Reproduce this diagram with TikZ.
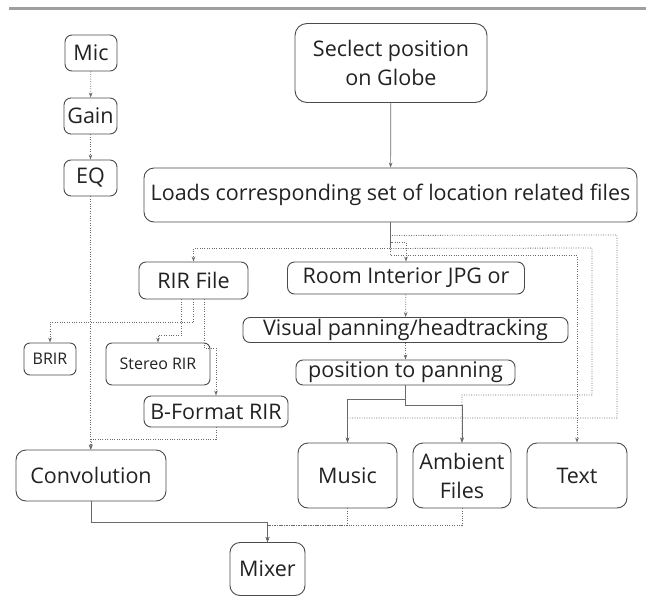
\documentclass[tikz,border=0pt]{standalone}
\usepackage{fontspec}
\setmainfont{Open Sans}
\usetikzlibrary{arrows.meta}

\definecolor{boxline}{HTML}{4A4A4A}
\definecolor{linegray}{HTML}{6A6A6A}
\definecolor{txtgray}{HTML}{222222}

\tikzset{
	blk/.style={draw=boxline,line width=0.9pt,rounded corners=7pt,fill=white,text=txtgray,
		inner sep=0pt,align=center,font=\fontsize{21.5}{29}\selectfont},
	sblk/.style={blk,rounded corners=6pt,font=\fontsize{16}{20}\selectfont},
	dotwire/.style={linegray,line width=0.8pt,dash pattern=on 0.9pt off 1.5pt},
	solwire/.style={linegray,line width=0.7pt},
	arr/.style={-{Stealth[length=5pt,width=3.6pt]}}
}

\begin{document}
\begin{tikzpicture}[x=1pt,y=-1pt]
		\useasboundingbox (0,0) rectangle (646,603);
		\draw[line width=2.5pt,gray!75] (9,8.5) -- (646,8.5);

		% left column
		\node[blk,minimum width=52pt,minimum height=36pt] (Mic) at (91,53) {Mic};
		\node[blk,minimum width=53pt,minimum height=36pt] (Gain) at (90.5,116) {Gain};
		\node[blk,minimum width=53pt,minimum height=36pt] (EQ) at (90.5,178) {EQ};

		% main column
		\node[blk,rounded corners=12pt,minimum width=192pt,minimum height=79pt] (Globe) at (391,63) {Seclect position\\on Globe};
		\node[blk,rounded corners=10pt,minimum width=493pt,minimum height=54pt] (Loads) at (390.5,195) {Loads corresponding set of location related files};
		\node[blk,minimum width=109pt,minimum height=37pt] (RIR) at (193.5,280.5) {RIR File};
		\node[blk,minimum width=237pt,minimum height=32pt] (Room) at (406,278) {Room Interior JPG or};
		\node[blk,minimum width=325pt,minimum height=25pt] (Visual) at (405.5,330) {Visual panning/headtracking};
		\node[blk,minimum width=219pt,minimum height=25pt] (Pos) at (405.5,372.5) {position to panning};

		\node[sblk,minimum width=52pt,minimum height=32pt] (BRIR) at (50,359) {BRIR};
		\node[sblk,minimum width=104pt,minimum height=42pt] (Stereo) at (158,364) {Stereo RIR};
		\node[blk,minimum width=144pt,minimum height=31pt] (BForm) at (216,411.5) {B-Format RIR};

		\node[blk,rounded corners=10pt,minimum width=150pt,minimum height=51pt] (Conv) at (91,475.5) {Convolution};
		\node[blk,rounded corners=10pt,minimum width=99pt,minimum height=65pt] (Music) at (347.5,475.5) {Music};
		\node[blk,rounded corners=10pt,minimum width=98pt,minimum height=65pt] (Amb) at (462,475.5) {Ambient\\Files};
		\node[blk,rounded corners=10pt,minimum width=100pt,minimum height=65pt] (Text) at (577,475.5) {Text};
		\node[blk,rounded corners=10pt,minimum width=75pt,minimum height=53pt] (Mixer) at (267.5,569) {Mixer};

		% bends of the long dotted runs
		\coordinate (M1) at (617,235);
		\coordinate (M2) at (617,418);
		\coordinate (A1) at (592,248);
		\coordinate (A2) at (592,395);

		\draw[dotwire,arr] (Mic) -- (Gain);
		\draw[dotwire,arr] (Gain) -- (EQ);
		\draw[dotwire,arr] (EQ.south) -- (EQ.south |- Conv.north);

		\draw[solwire,arr] (Globe) -- (Loads);
		\draw[solwire] (Loads.south) -- ++(0,26);
		\draw[dotwire,arr] (Loads.south) -- ++(0,26) -| (RIR.north);
		\draw[dotwire,arr] (Loads.south) -- ++(0,20) -| (Room.north);
		\draw[dotwire,arr] (Loads.south) -- ++(0,13) -- (M1) -- (M2) -| (Music.north);
		\draw[dotwire,arr] (Loads.south) -- ++(0,26) -- (A1) -- (A2) -| (Amb.north);
		\draw[dotwire,arr] (Loads.south) -- ++(0,33) -| (Text.north);

		\draw[dotwire,arr] (Room) -- (Visual);
		\draw[dotwire,arr] (Visual) -- (Pos);
		\draw[solwire,arr] (Pos.south) -- ++(0,14) -| (Music.north);
		\draw[solwire,arr] (Pos.south) -- ++(0,20) -| (Amb.north);

		\draw[dotwire,arr] (RIR.south) -- ++(0,23) -| (BRIR.north);
		\draw[dotwire,arr] ([xshift=-12pt]RIR.south) -- ++(0,36) -| (Stereo.north);
		\draw[dotwire,arr] ([xshift=11pt]RIR.south) -- ++(0,49) -| (BForm.north);
		\draw[dotwire,arr] (BForm.south) -- ++(0,12) -| (Conv.north);

		\draw[solwire,arr] (Conv.south) -- ++(0,21) -| (Mixer.north);
		\draw[dotwire,arr] (Music.south) -- ++(0,17) -| (Mixer.north);
		\draw[dotwire,arr] (Amb.south) -- ++(0,17) -| (Mixer.north);
	    \end{tikzpicture}
\end{document}
